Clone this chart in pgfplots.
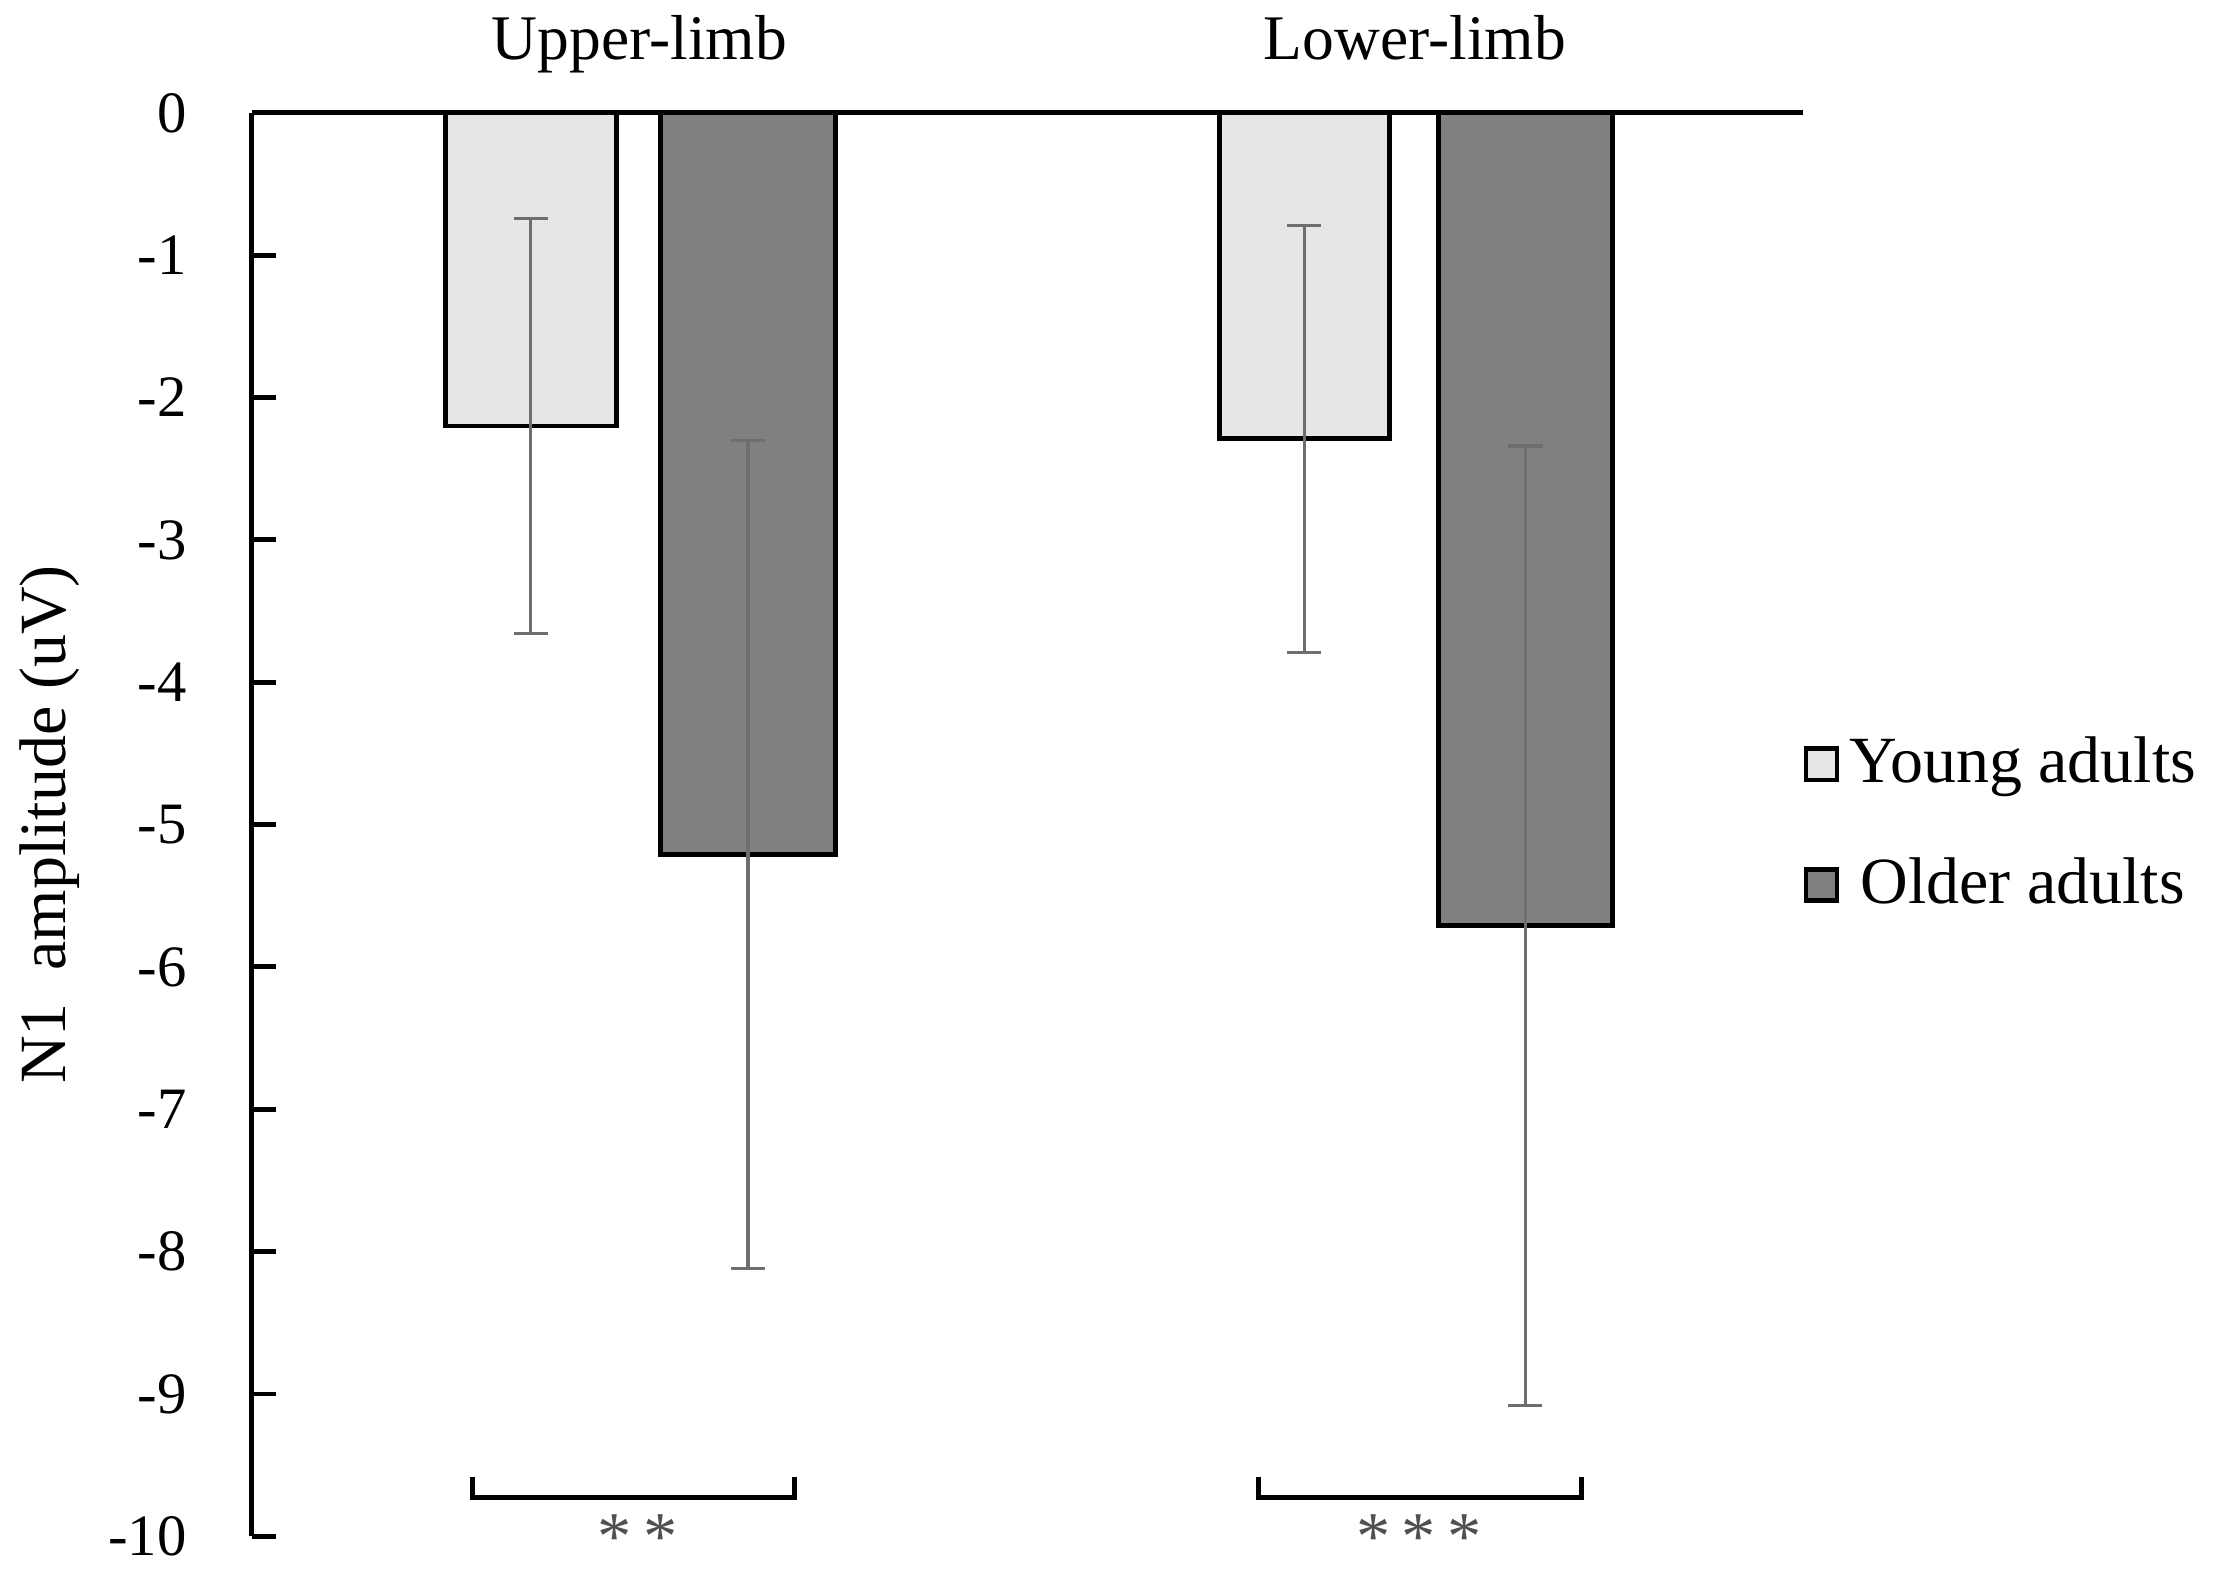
\documentclass[border=0pt]{standalone}
\usepackage{pgfplots}
\pgfplotsset{compat=1.18}
\usepackage{fontspec}
\setmainfont{Liberation Serif}
\definecolor{younggray}{HTML}{E6E6E6}
\definecolor{oldergray}{HTML}{808080}
\definecolor{errgray}{HTML}{6E6E6E}
\definecolor{stargray}{HTML}{505050}
\begin{document}
\fontsize{12.5}{15}\selectfont
\begin{tikzpicture}
\begin{axis}[
  name=ax,
  scale only axis,
  width=317.4pt, height=291.3pt,
  xmin=0, xmax=4, ymin=-10, ymax=0,
  clip=false,
  axis x line*=top,
  axis y line*=left,
  axis line style={line width=1pt, black},
  xtick={1,3},
  xticklabels={Upper-limb, Lower-limb},
  major x tick style={draw=none},
  xticklabel style={anchor=base, yshift=11pt, font=\fontsize{13}{15}\selectfont},
  ytick={-10,-9,...,0},
  tick align=inside,
  major tick length=5pt,
  major y tick style={line width=1pt, black},
  /pgf/number format/assume math mode=true,
  yticklabel style={xshift=-9pt, font=\fontsize{12}{15}\selectfont},
  ylabel={N1\ \ amplitude (uV)},
  ylabel style={at={(axis description cs:-0.13,0.5)}, anchor=center, font=\fontsize{13.5}{16}\selectfont},
  legend style={draw=none, fill=none, at={(axis description cs:1,0.5)}, anchor=west,
    inner xsep=0pt, row sep=9.5pt, font=\fontsize{13.5}{16}\selectfont,
    nodes={inner xsep=2pt}},
  legend image code/.code={\draw[#1, line width=0.9pt] (0pt,-3.2pt) rectangle (6.4pt,3.2pt);},
]
\addplot[ybar, bar shift=0pt, bar width=0.44, fill=younggray, draw=black, line width=1pt,
  error bars/.cd, y dir=both, y explicit,
  error bar style={errgray, line width=0.65pt}, error mark options={errgray, line width=0.65pt, mark size=3.5pt, rotate=90}]
  coordinates {(0.72,-2.20) +- (0,1.46) (2.715,-2.29) +- (0,1.50)};
\addlegendentry{Young adults}
\addplot[ybar, bar shift=0pt, bar width=0.45, fill=oldergray, draw=black, line width=1pt,
  error bars/.cd, y dir=both, y explicit,
  error bar style={errgray, line width=0.65pt}, error mark options={errgray, line width=0.65pt, mark size=3.5pt, rotate=90}]
  coordinates {(1.28,-5.21) +- (0,2.91) (3.285,-5.71) +- (0,3.37)};
\addlegendentry{Older adults}
\draw[line width=1pt, black] (axis cs:0.57,-9.58) -- (axis cs:0.57,-9.73) -- (axis cs:1.40,-9.73) -- (axis cs:1.40,-9.58);
\draw[line width=1pt, black] (axis cs:2.597,-9.58) -- (axis cs:2.597,-9.73) -- (axis cs:3.43,-9.73) -- (axis cs:3.43,-9.58);
\node[anchor=base, inner sep=0pt, text=stargray, font=\fontsize{14}{16}\selectfont] at (axis cs:0.995,-10.16) {*\,*};
\node[anchor=base, inner sep=0pt, text=stargray, font=\fontsize{14}{16}\selectfont] at (axis cs:3.01,-10.16) {*\,*\,*};
\end{axis}
\pgfresetboundingbox
\path[use as bounding box] ([shift={(-51.5pt,-6.7pt)}]ax.south west) rectangle ([shift={(84.8pt,23.1pt)}]ax.north east);
\end{tikzpicture}
\end{document}
